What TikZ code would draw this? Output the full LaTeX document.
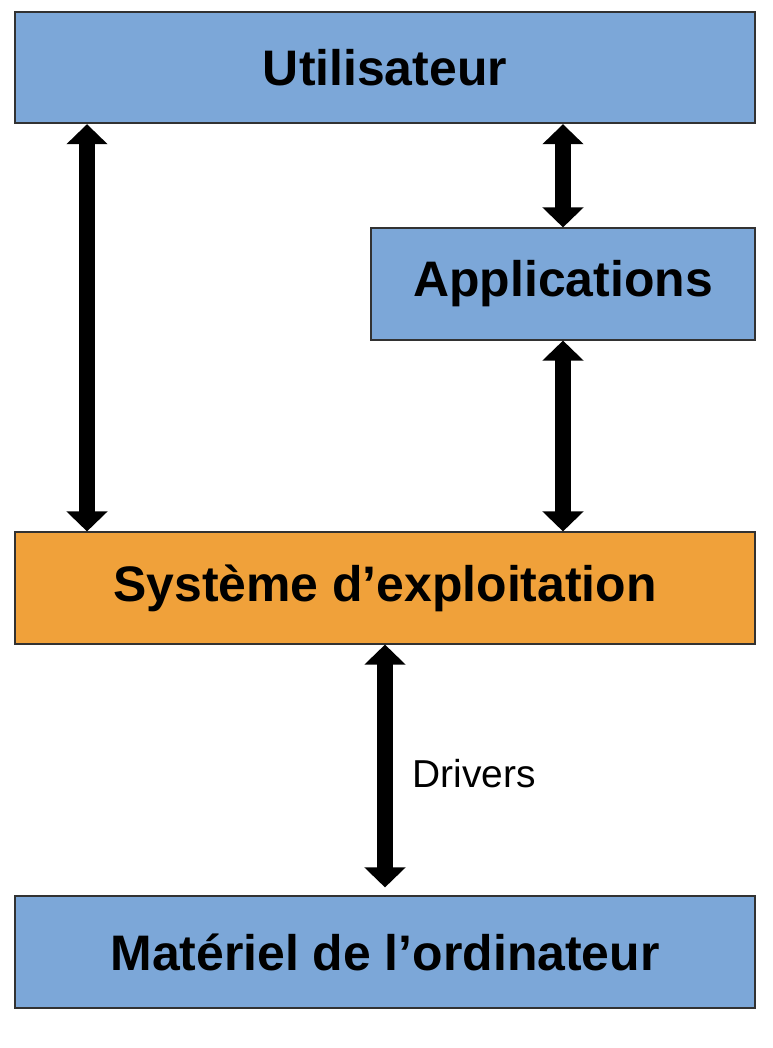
\documentclass[tikz,border=0pt]{standalone}
\usepackage{fontspec}
\setmainfont{Liberation Sans}
\usetikzlibrary{arrows.meta}
\definecolor{boxblue}{RGB}{124,167,216}
\definecolor{boxorange}{RGB}{240,161,58}
\definecolor{boxline}{RGB}{50,50,50}

\begin{document}
\begin{tikzpicture}[
    layer/.style={rectangle, draw=boxline, line width=1.4pt, fill=boxblue, inner sep=0pt,
        minimum height=2.78cm, font=\fontsize{35.5}{40}\selectfont\bfseries},
    link/.style={{Triangle[width=1cm,length=0.5cm]}-{Triangle[width=1cm,length=0.5cm]}, line width=0.42cm},
    tag/.style={inner sep=0pt, font=\fontsize{27.7}{32}\selectfont}
]
\useasboundingbox (0,0) rectangle (19.3,-26.2);
\node[layer, minimum width=18.5cm] (user) at (9.625,-1.69) {Utilisateur};
\node[layer, minimum width=9.6cm] (apps) at (14.075,-7.1) {Applications};
\node[layer, minimum width=18.5cm, fill=boxorange] (os) at (9.625,-14.7) {Système d’exploitation};
\node[layer, minimum width=18.5cm] (hw) at (9.625,-23.8) {Matériel de l’ordinateur};

\draw[link] ([xshift=1.825cm]user.south west) -- ([xshift=1.825cm]os.north west);
\draw[link] (user.south -| apps) -- (apps.north);
\draw[link] (apps.south) -- (apps.south |- os.north);
\draw[link, shorten >=0.2cm] (os.south) -- (hw.north)
    node[tag, midway, anchor=west, xshift=0.48cm, yshift=-0.1cm] (drv) {Drivers};
\end{tikzpicture}
\end{document}
